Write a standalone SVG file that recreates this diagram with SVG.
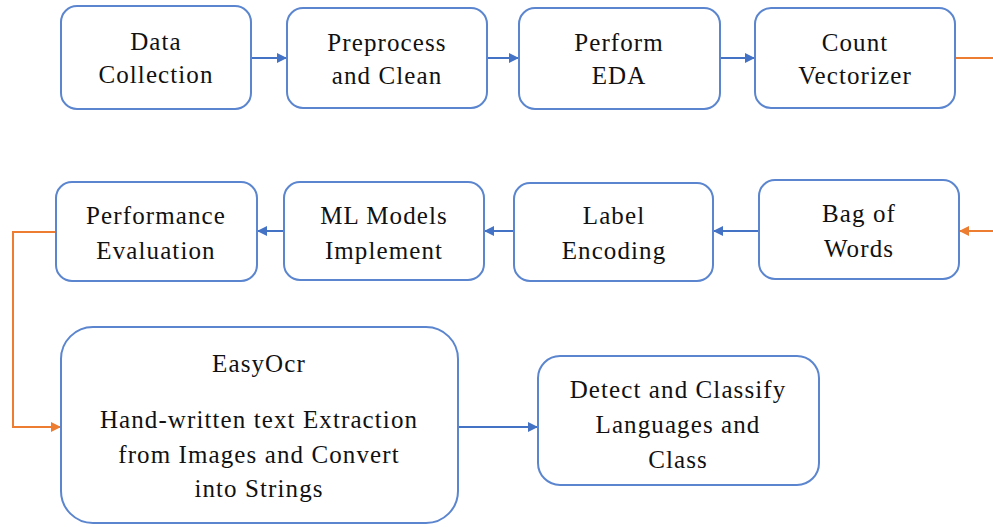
<svg xmlns="http://www.w3.org/2000/svg" width="993" height="527" viewBox="0 0 993 527">
<style>
.box{fill:#fff;stroke:#5B86CF;stroke-width:2}
.t{font-family:"Times New Roman","Liberation Serif",Times,"DejaVu Serif","Noto Serif",Tinos,serif;font-size:25px;letter-spacing:1.1px;fill:#111;text-anchor:middle}
.cb{fill:none;stroke:#4472C4;stroke-width:2}
.co{fill:none;stroke:#ED7D31;stroke-width:2}
</style>
<defs>
<marker id="ab" markerWidth="10" markerHeight="10" refX="9" refY="5" orient="auto" markerUnits="userSpaceOnUse"><path d="M0,0 L10,5 L0,10 z" fill="#4472C4"/></marker>
<marker id="ao" markerWidth="10" markerHeight="10" refX="9" refY="5" orient="auto" markerUnits="userSpaceOnUse"><path d="M0,0 L10,5 L0,10 z" fill="#ED7D31"/></marker>
</defs>
<rect width="993" height="527" fill="#fff"/>
<g id="connectors">
<path class="cb" d="M251,58 H286" marker-end="url(#ab)"/>
<path class="cb" d="M487,58 H518" marker-end="url(#ab)"/>
<path class="cb" d="M720,58 H754" marker-end="url(#ab)"/>
<path class="co" d="M955,58 H993"/>
<path class="co" d="M993,231 H960" marker-end="url(#ao)"/>
<path class="cb" d="M759,231 H714" marker-end="url(#ab)"/>
<path class="cb" d="M514,231 H485" marker-end="url(#ab)"/>
<path class="cb" d="M284,231 H258" marker-end="url(#ab)"/>
<path class="co" d="M56,232 H13 V427 H60" marker-end="url(#ao)"/>
<path class="cb" d="M458,427 H537" marker-end="url(#ab)"/>
</g>
<g id="n1"><rect class="box" x="61" y="6" width="190" height="103" rx="16"/><text class="t" x="156" y="50">Data</text><text class="t" x="156" y="83">Collection</text></g>
<g id="n2"><rect class="box" x="287" y="8" width="200" height="100" rx="16"/><text class="t" x="387" y="51">Preprocess</text><text class="t" x="387" y="84">and Clean</text></g>
<g id="n3"><rect class="box" x="519" y="8" width="201" height="101" rx="16"/><text class="t" x="619" y="51">Perform</text><text class="t" x="619" y="84">EDA</text></g>
<g id="n4"><rect class="box" x="755" y="8" width="200" height="100" rx="16"/><text class="t" x="855" y="51">Count</text><text class="t" x="855" y="84">Vectorizer</text></g>
<g id="n5"><rect class="box" x="759" y="180" width="200" height="99" rx="16"/><text class="t" x="859" y="222">Bag of</text><text class="t" x="859" y="257">Words</text></g>
<g id="n6"><rect class="box" x="514" y="183" width="199" height="98" rx="16"/><text class="t" x="614" y="224">Label</text><text class="t" x="614" y="259">Encoding</text></g>
<g id="n7"><rect class="box" x="284" y="182" width="200" height="98" rx="16"/><text class="t" x="384" y="224">ML Models</text><text class="t" x="384" y="259">Implement</text></g>
<g id="n8"><rect class="box" x="56" y="182" width="201" height="99" rx="16"/><text class="t" x="156" y="224">Performance</text><text class="t" x="156" y="259">Evaluation</text></g>
<g id="n9"><rect class="box" x="61" y="327" width="397" height="196" rx="32"/><text class="t" x="259" y="372">EasyOcr</text><text class="t" x="259" y="428">Hand-written text Extraction</text><text class="t" x="259" y="463">from Images and Convert</text><text class="t" x="259" y="497">into Strings</text></g>
<g id="n10"><rect class="box" x="538" y="356" width="281" height="129" rx="22"/><text class="t" x="678" y="398">Detect and Classify</text><text class="t" x="678" y="433">Languages and</text><text class="t" x="678" y="468">Class</text></g>
</svg>
